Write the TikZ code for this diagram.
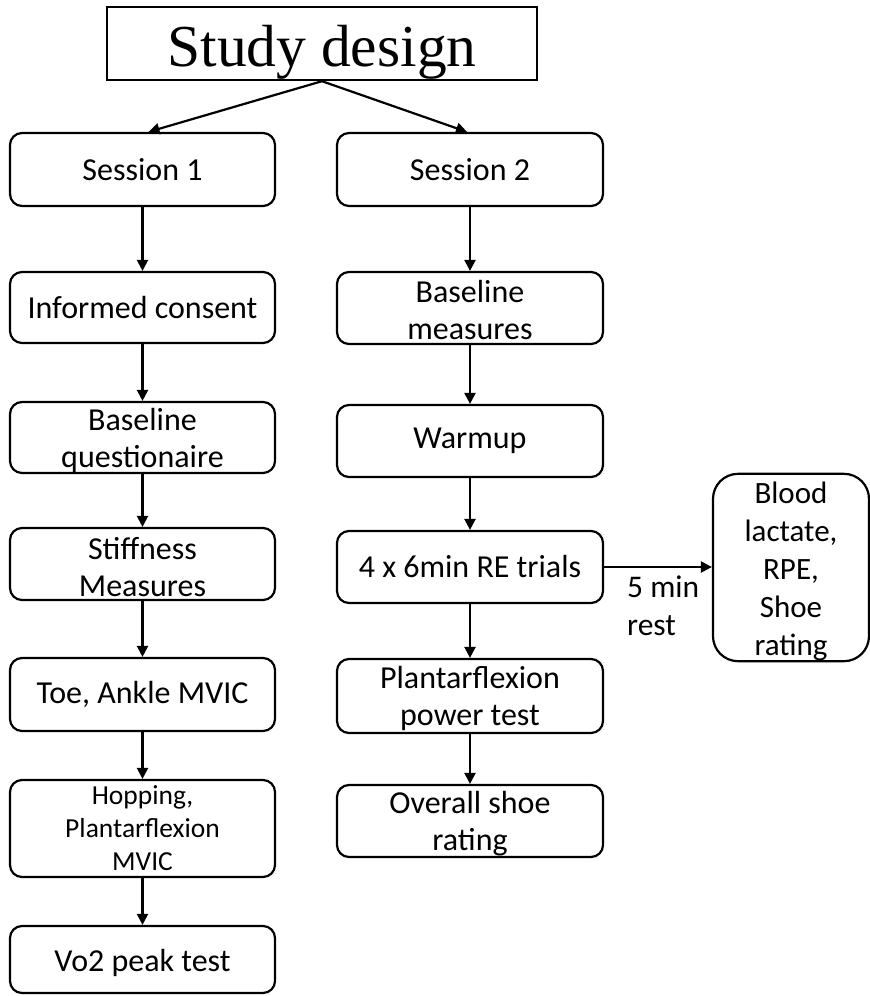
\documentclass[tikz,border=0pt]{standalone}
\usepackage{fontspec}
\setmainfont{Carlito}
\newfontfamily\titlefont{Liberation Serif}
\usetikzlibrary{arrows.meta}
\newcommand{\lowerstrut}[1]{\rule{0pt}{#1}}
\begin{document}
\begin{tikzpicture}[x=1pt,y=-1pt,
  box/.style={draw, line width=2.2pt, rounded corners=12pt, inner sep=0pt, align=center,
    font=\fontsize{32}{37}\selectfont},
  lbox/.style={box, minimum width=265pt},
  rbox/.style={box, minimum width=266pt},
  arr/.style={line width=2.2pt, -{Triangle[length=11pt,width=11pt]}},
]
\useasboundingbox (0,0) rectangle (870,996);

% title
\node[draw, line width=2.4pt, inner sep=0pt, minimum width=430pt, minimum height=73pt,
  text height=45pt, text depth=0pt, font=\titlefont\fontsize{59.5}{70}\selectfont]
  (title) at (322,43.5) {Study design};

% left column
\node[lbox, minimum height=73pt] (s1)  at (142.5,169.5) {Session 1};
\node[lbox, minimum height=71pt] (ic)  at (142.5,307.5) {Informed consent};
\node[lbox, minimum height=71pt] (bq)  at (142.5,437.5) {\lowerstrut{28pt}Baseline\\questionaire};
\node[lbox, minimum height=72pt] (sm)  at (142.5,564)   {\lowerstrut{28pt}Stiffness\\Measures};
\node[lbox, minimum height=73pt] (toe) at (142.5,694.5) {Toe, Ankle MVIC};
\node[lbox, minimum height=97pt, font=\fontsize{27.5}{33}\selectfont] (hop) at (142.5,828.5) {Hopping,\\Plantarflexion\\MVIC};
\node[lbox, minimum height=67pt, text height=24pt, text depth=1pt] (vo2) at (142.5,959.5) {Vo2 peak test};

% right column
\node[rbox, minimum height=73pt] (s2) at (470,169.5) {Session 2};
\node[rbox, minimum height=72pt] (bm) at (470,308)   {\lowerstrut{27pt}Baseline\\measures};
\node[rbox, minimum height=72pt] (wu) at (470,441)   {Warmup};
\node[rbox, minimum height=72pt] (tr) at (470,567)   {4 x 6min RE trials};
\node[rbox, minimum height=74pt] (pf) at (470,696)   {\lowerstrut{27pt}Plantarflexion\\power test};
\node[rbox, minimum height=72pt] (os) at (470,821)   {\lowerstrut{27pt}Overall shoe\\rating};

% side box
\node[box, rounded corners=25pt, minimum width=156pt, minimum height=185pt,
  font=\fontsize{31}{38}\selectfont] (bl) at (791,567.5) {\lowerstrut{30pt}Blood\\lactate,\\RPE,\\Shoe\\rating};

\node[anchor=north west, align=left, inner sep=0pt, font=\fontsize{31.5}{38}\selectfont]
  (rest) at (627,576) {5 min\\rest};

% connectors
\draw[arr] (title.south) -- ([xshift=6pt]s1.north);
\draw[arr] (title.south) -- ([xshift=-3pt]s2.north);
\draw[arr] (s1) -- (ic);
\draw[arr] (ic) -- (bq);
\draw[arr] (bq) -- (sm);
\draw[arr] (sm) -- (toe);
\draw[arr] (toe) -- (hop);
\draw[arr] (hop) -- (vo2);
\draw[arr] (s2) -- (bm);
\draw[arr] (bm) -- (wu);
\draw[arr] (wu) -- (tr);
\draw[arr] (tr) -- (pf);
\draw[arr] (pf) -- (os);
\draw[arr] (tr.east) -- (tr.east -| bl.west);
\end{tikzpicture}
\end{document}
